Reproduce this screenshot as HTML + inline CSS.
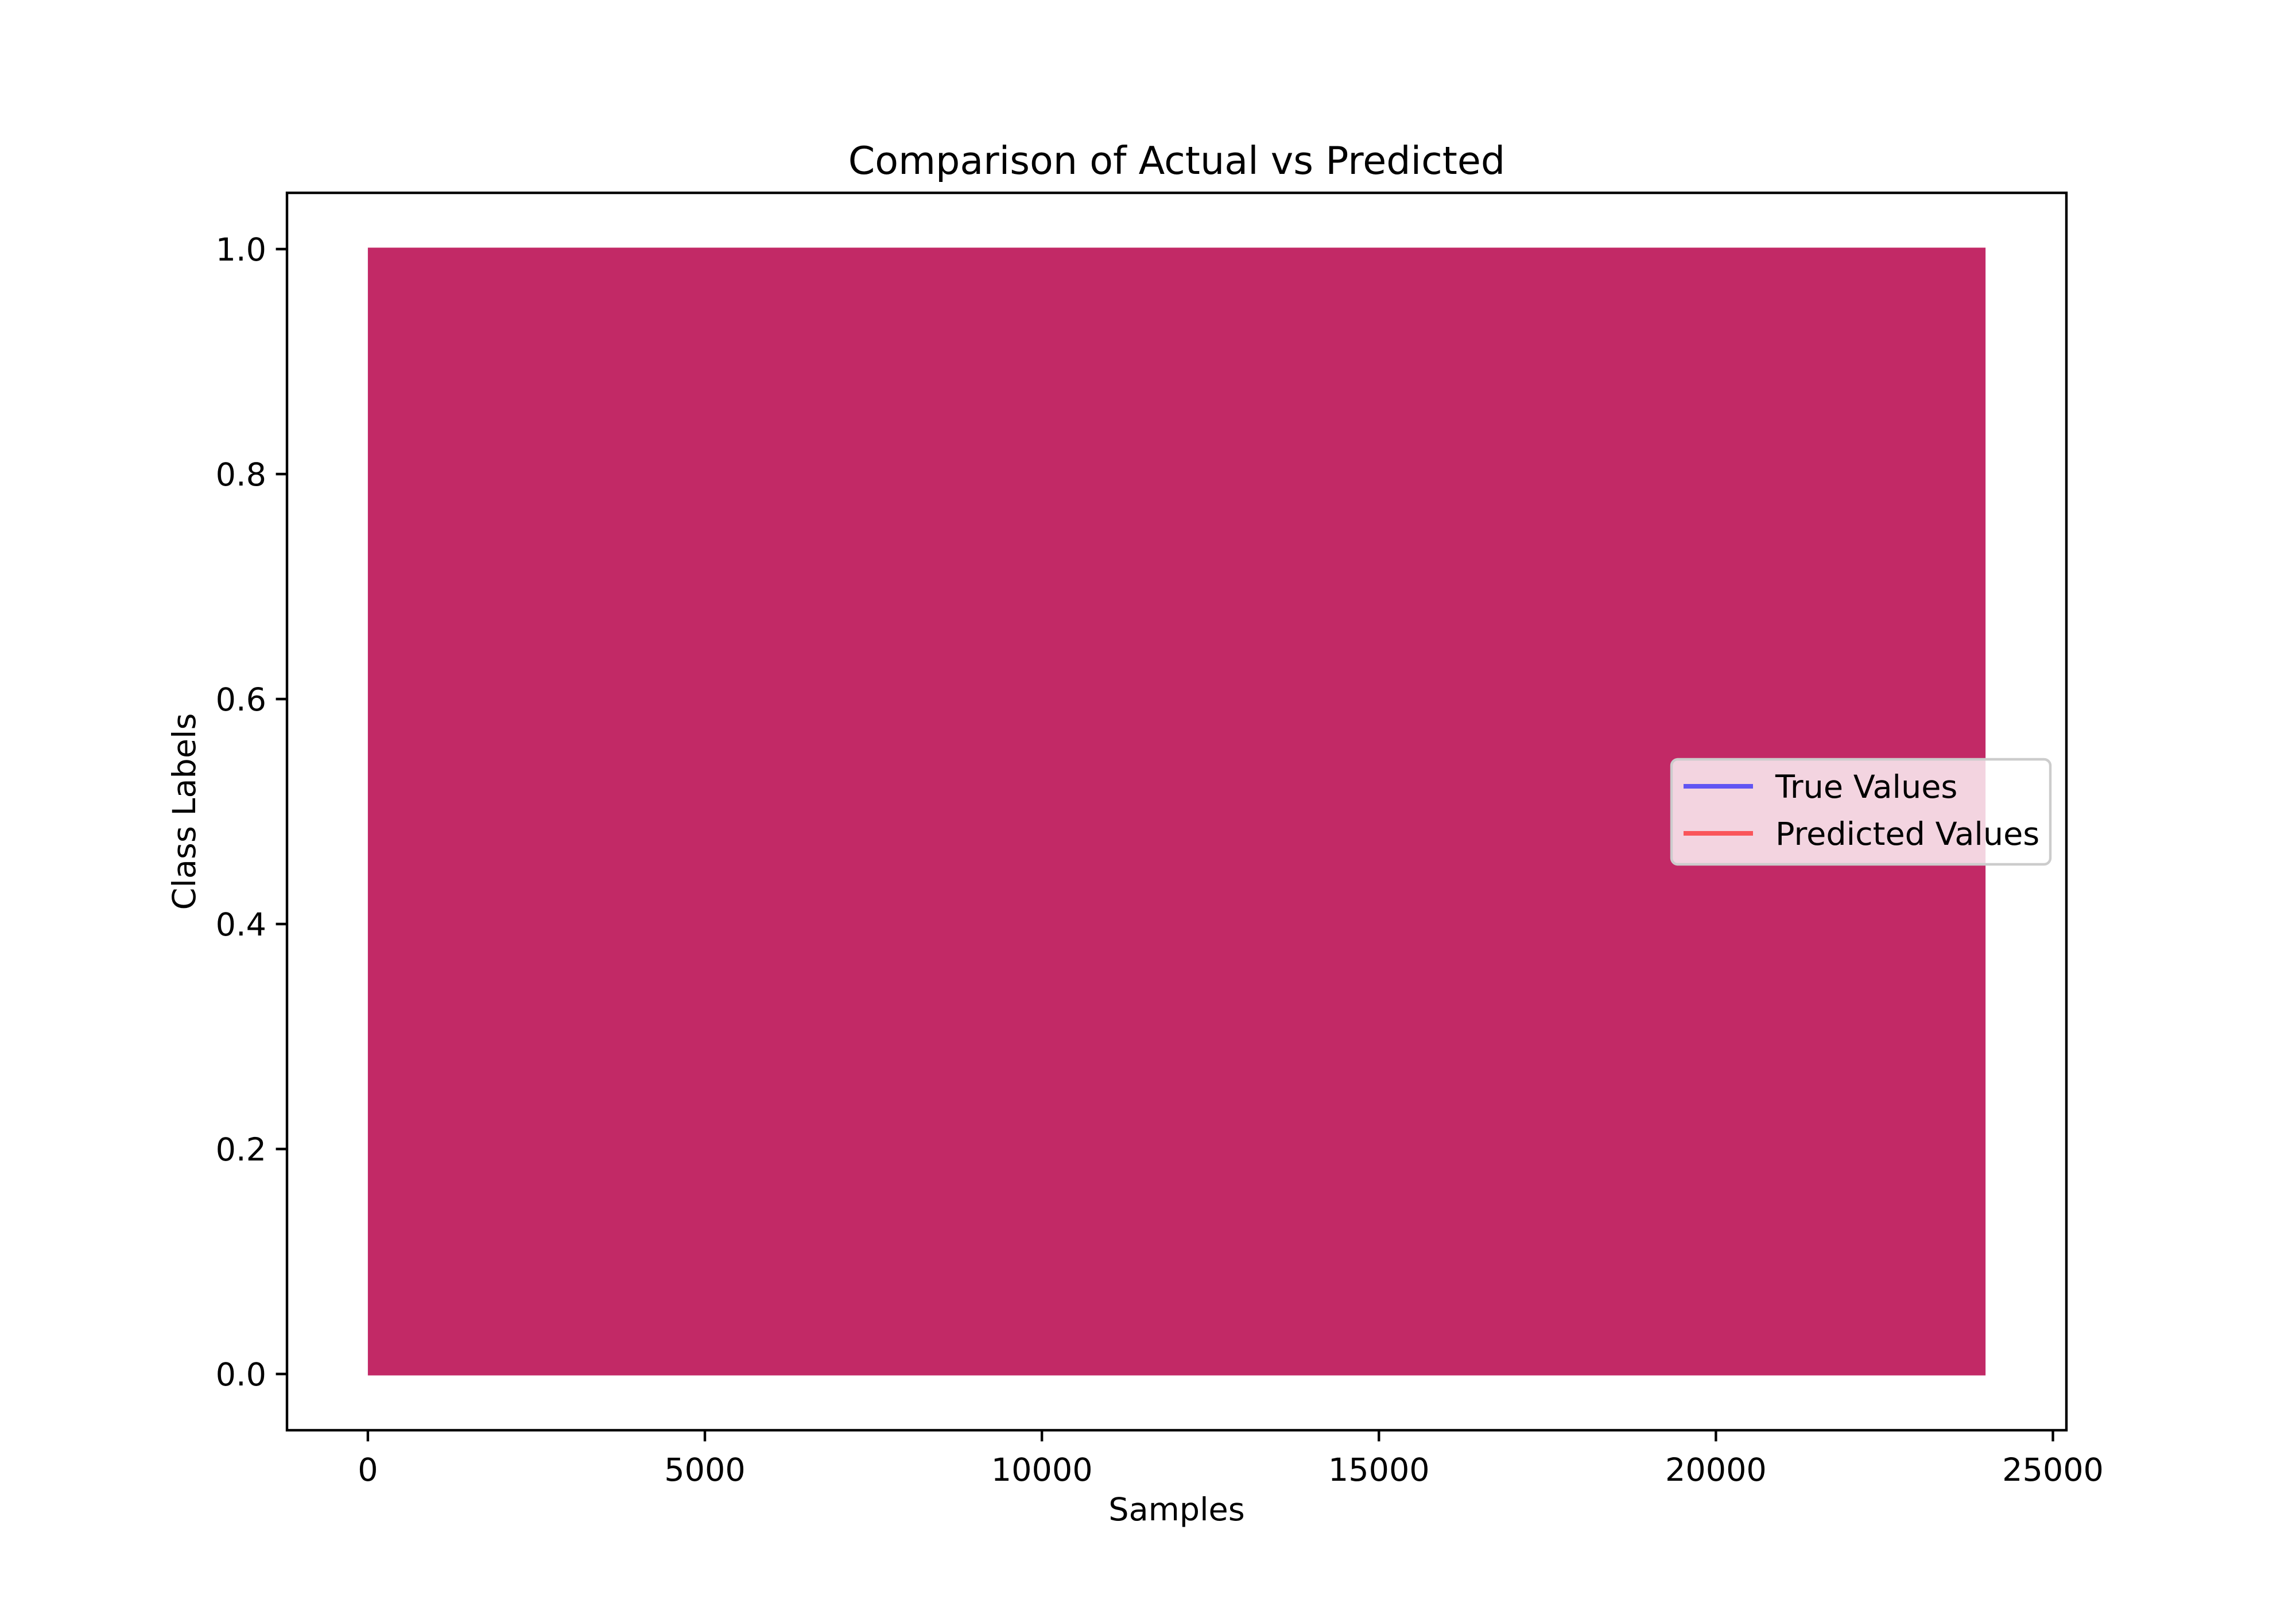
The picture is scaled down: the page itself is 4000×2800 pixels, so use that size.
<!DOCTYPE html>
<html><head><meta charset="utf-8"><style>
html,body{margin:0;padding:0;background:#fff;}
svg{display:block;font-family:"DejaVu Sans","Liberation Sans",sans-serif;}
</style></head><body>
<svg id="chart" width="4000" height="2800" viewBox="0 0 4000 2800" xmlns="http://www.w3.org/2000/svg">
<rect width="4000" height="2800" fill="#fff"/>
<g id="plot"></g>
<text x="2050" y="303" font-size="66.7" text-anchor="middle">Comparison of Actual vs Predicted</text>
<text x="2050" y="2649" font-size="55.6" text-anchor="middle">Samples</text>
<text x="0" y="0" font-size="55.6" text-anchor="middle" transform="translate(340,1414) rotate(-90)">Class Labels</text>
</svg>
<script>
// Data (the signal oscillates densely between 0 and 1 across all samples)
const sampleRange = [0, 24000];
const trueEnvelope = [0, 1];
const predEnvelope = [0, 1];
const xTicks = [0, 5000, 10000, 15000, 20000, 25000];
const yTicks = [0.0, 0.2, 0.4, 0.6, 0.8, 1.0];

const L = 500, R = 3600, T = 336, B = 2492;
const xMin = -1200, xMax = 25200, yMin = -0.05, yMax = 1.05;
const sx = v => L + (v - xMin) / (xMax - xMin) * (R - L);
const sy = v => B - (v - yMin) / (yMax - yMin) * (B - T);
const NS = "http://www.w3.org/2000/svg";
const plot = document.getElementById('plot');
function mk(tag, attrs, parent) {
  const e = document.createElementNS(NS, tag);
  for (const k in attrs) e.setAttribute(k, attrs[k]);
  (parent || plot).appendChild(e);
  return e;
}
const lw = 5;
const tv = mk('rect', {x: sx(sampleRange[0]), y: sy(trueEnvelope[1]) - lw/2, width: sx(sampleRange[1]) - sx(sampleRange[0]), height: sy(trueEnvelope[0]) - sy(trueEnvelope[1]) + lw, fill: '#0000ff', 'fill-opacity': 0.6});


const pv = mk('rect', {x: sx(sampleRange[0]), y: sy(predEnvelope[1]) - lw/2, width: sx(sampleRange[1]) - sx(sampleRange[0]), height: sy(predEnvelope[0]) - sy(predEnvelope[1]) + lw, fill: '#ff0000', 'fill-opacity': 0.6});



const frame = mk('rect', {x: L, y: T, width: R - L, height: B - T, fill: 'none', stroke: '#000', 'stroke-width': 4.4});



xTicks.forEach(v => {
  const x = sx(v);
  const t = mk('line', {x1: x, x2: x, y1: B, y2: B + 19.4, stroke: '#000', 'stroke-width': 4.4});
  
  
  const l = mk('text', {x: x, y: B + 88, 'font-size': 55.6, 'text-anchor': 'middle'});
  l.textContent = String(v);
  
  
});
yTicks.forEach(v => {
  const y = sy(v);
  const t = mk('line', {x1: L - 19.4, x2: L, y1: y, y2: y, stroke: '#000', 'stroke-width': 4.4});
  
  
  const l = mk('text', {x: L - 36, y: y + 20, 'font-size': 55.6, 'text-anchor': 'end'});
  l.textContent = v.toFixed(1);
  
  
});

const lg = mk('g', {});


mk('rect', {x: 2912, y: 1323, width: 660, height: 183, rx: 11, fill: '#fff', 'fill-opacity': 0.8, stroke: '#cccccc', 'stroke-width': 4.4}, lg);
const entries = [['True Values', '#0000ff', 1370], ['Predicted Values', '#ff0000', 1452]];
entries.forEach(([name, c, y]) => {
  const g = mk('g', {}, lg);
  
  
  mk('line', {x1: 2933, x2: 3054, y1: y, y2: y, stroke: c, 'stroke-opacity': 0.6, 'stroke-width': 8}, g);
  const t = mk('text', {x: 3093, y: y + 20, 'font-size': 55.6}, g);
  t.textContent = name;
});
</script>
</body></html>
